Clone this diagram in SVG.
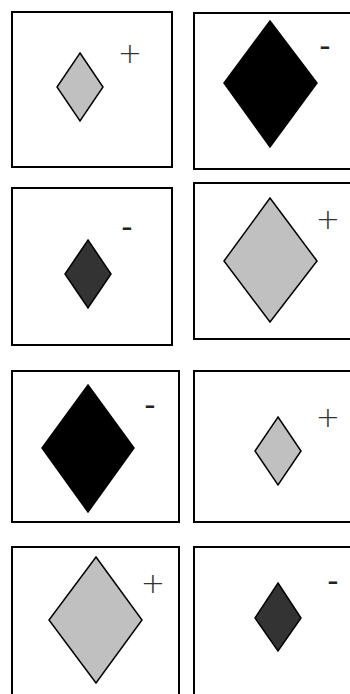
<svg xmlns="http://www.w3.org/2000/svg" width="350" height="694" viewBox="0 0 350 694">
<style>
.frame{fill:#fff;stroke:#000;stroke-width:2}
.d{stroke:#000;stroke-width:1.5;stroke-linejoin:miter}
.light{fill:#c0c0c0}
.dark{fill:#333333}
.black{fill:#000}
.sign{font-family:"DejaVu Sans",sans-serif;font-weight:200;font-size:29px;fill:#333;text-anchor:middle;dominant-baseline:central}
.minus{font-family:"Liberation Sans",sans-serif;font-size:34px;fill:#222;text-anchor:middle;dominant-baseline:central}
</style>
<rect width="350" height="694" fill="#fff"/>
<g id="panel1">
<rect class="frame" x="12" y="12" width="160" height="155"/>
<polygon class="d light" points="80,53 103,87 80,121 57,87"/>
<text class="sign" x="130" y="53">+</text>
</g>
<g id="panel2">
<rect class="frame" x="194" y="13" width="170" height="156"/>
<polygon class="d black" points="270,21 317,83 270,147 224,83"/>
<text class="minus" x="325" y="45">-</text>
</g>
<g id="panel3">
<rect class="frame" x="12" y="188" width="160" height="157"/>
<polygon class="d dark" points="88,240 111,274 88,308 65,274"/>
<text class="minus" x="127" y="226">-</text>
</g>
<g id="panel4">
<rect class="frame" x="194" y="183" width="170" height="156"/>
<polygon class="d light" points="270,198 317,261 270,322 224,261"/>
<text class="sign" x="328" y="219">+</text>
</g>
<g id="panel5">
<rect class="frame" x="12" y="371" width="167" height="151"/>
<polygon class="d black" points="88,385 134,448 88,512 42,448"/>
<text class="minus" x="150" y="404">-</text>
</g>
<g id="panel6">
<rect class="frame" x="194" y="371" width="170" height="151"/>
<polygon class="d light" points="278,417 301,451 278,485 255,451"/>
<text class="sign" x="328" y="417">+</text>
</g>
<g id="panel7">
<rect class="frame" x="12" y="547" width="167" height="160"/>
<polygon class="d light" points="96,557 142,620 96,683 49,620"/>
<text class="sign" x="153" y="583">+</text>
</g>
<g id="panel8">
<rect class="frame" x="194" y="547" width="170" height="160"/>
<polygon class="d dark" points="278,583 301,618 278,651 255,618"/>
<text class="minus" x="333" y="580">-</text>
</g>
<g id="connectors"></g>
</svg>
